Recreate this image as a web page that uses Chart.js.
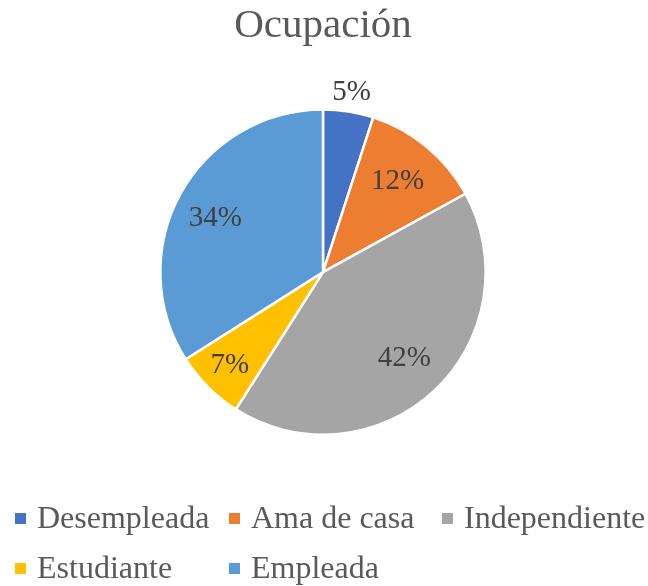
<!DOCTYPE html>
<html>
<head>
<meta charset="utf-8">
<script src="https://cdn.jsdelivr.net/npm/chart.js@4/dist/chart.umd.min.js"></script>
<style>
  html, body { margin: 0; padding: 0; background: #ffffff; }
  #wrap { width: 648px; height: 586px; position: relative; }
</style>
</head>
<body>
<div id="wrap"><canvas id="c"></canvas></div>
<script>
const titleText = 'Ocupación';
const categories = ['Desempleada', 'Ama de casa', 'Independiente', 'Estudiante', 'Empleada'];
const values = [5, 12, 42, 7, 34];
const colors = ['#4472C4', '#ED7D31', '#A5A5A5', '#FFC000', '#5B9BD5'];

const SERIF = '"Liberation Serif", "Times New Roman", serif';

const pctLabels = {
  id: 'pctLabels',
  afterDatasetsDraw(chart, args, opts) {
    const ctx = chart.ctx;
    const meta = chart.getDatasetMeta(0);
    const data = chart.data.datasets[0].data;
    const total = data.reduce((a, b) => a + b, 0);
    ctx.save();
    ctx.font = opts.font;
    ctx.fillStyle = opts.color;
    ctx.textAlign = 'center';
    ctx.textBaseline = 'middle';
    meta.data.forEach((arc, i) => {
      const p = arc.getProps(['x', 'y', 'startAngle', 'endAngle', 'outerRadius'], true);
      const mid = (p.startAngle + p.endAngle) / 2 + opts.angleShift[i];
      const f = opts.radial[i];
      const x = p.x + Math.cos(mid) * p.outerRadius * f;
      const y = p.y + Math.sin(mid) * p.outerRadius * f;
      ctx.fillText(Math.round(data[i] / total * 100) + '%', x, y);
    });
    ctx.restore();
  }
};

const customLegend = {
  id: 'customLegend',
  afterDraw(chart, args, opts) {
    const ctx = chart.ctx;
    const labels = chart.data.labels;
    const bg = chart.data.datasets[0].backgroundColor;
    ctx.save();
    ctx.font = opts.font;
    ctx.textAlign = 'left';
    ctx.textBaseline = 'alphabetic';
    labels.forEach((lab, i) => {
      const col = i % opts.perRow;
      const row = Math.floor(i / opts.perRow);
      const mx = opts.colX[col];
      const baseY = opts.rowBaseline[row];
      ctx.fillStyle = bg[i];
      ctx.fillRect(mx, baseY - 15, opts.box, opts.box);
      ctx.fillStyle = opts.color;
      ctx.fillText(lab, mx + opts.box + 11, baseY);
    });
    ctx.restore();
  }
};

new Chart(document.getElementById('c'), {
  type: 'pie',
  data: {
    labels: categories,
    datasets: [{
      data: values,
      backgroundColor: colors,
      borderColor: '#ffffff',
      borderWidth: 2.5
    }]
  },
  options: {
    responsive: true,
    maintainAspectRatio: false,
    animation: false,
    layout: { padding: { top: 0, bottom: 150, left: 0, right: 2 } },
    plugins: {
      legend: { display: false },
      tooltip: { enabled: false },
      title: {
        display: true,
        text: titleText,
        color: '#595959',
        font: { family: SERIF, size: 41, weight: 'normal' },
        padding: { top: 2, bottom: 57 }
      },
      pctLabels: {
        font: '29px ' + SERIF,
        color: '#404040',
        radial: [1.12, 0.72, 0.73, 0.81, 0.74],
        angleShift: [0, 0, 0, 0, -0.04]
      },
      customLegend: {
        font: '32px ' + SERIF,
        color: '#595959',
        perRow: 3,
        colX: [15, 229, 442],
        rowBaseline: [528, 578],
        box: 11
      }
    }
  },
  plugins: [pctLabels, customLegend]
});
</script>
</body>
</html>
